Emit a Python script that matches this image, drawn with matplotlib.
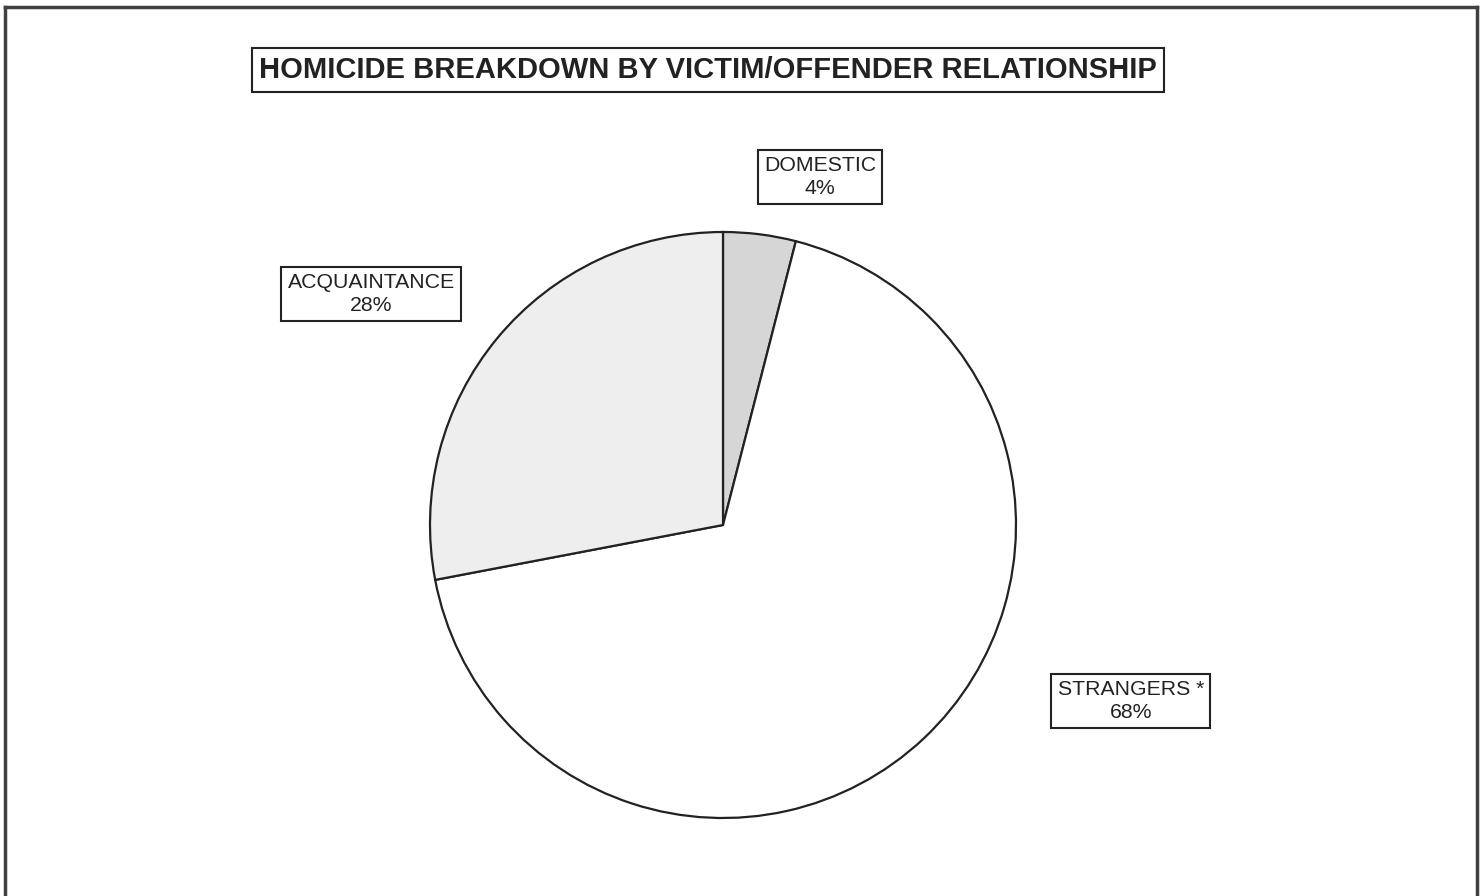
import matplotlib
matplotlib.use("Agg")
import matplotlib.pyplot as plt
from matplotlib.lines import Line2D

plt.rcParams['font.family'] = ['Liberation Sans', 'DejaVu Sans']

TITLE = "HOMICIDE BREAKDOWN BY VICTIM/OFFENDER RELATIONSHIP"
categories = ["DOMESTIC", "STRANGERS *", "ACQUAINTANCE"]
shares = [4, 68, 28]
slice_colors = ["#d6d6d6", "#ffffff", "#eeeeee"]
# label box centres, in pie data units (radius = 1)
label_pos = [(0.331, 1.188), (1.392, -0.601), (-1.201, 0.788)]

W, H = 1482, 896
fig = plt.figure(figsize=(W / 100, H / 100), dpi=100)

# outer frame (no bottom edge visible in the scan)
frame_kw = dict(color="#404040", lw=2.5, transform=fig.transFigure)
fig.add_artist(Line2D([5 / W, 5 / W], [0, 1 - 7 / H], **frame_kw))
fig.add_artist(Line2D([5 / W, 1477 / W], [1 - 7 / H, 1 - 7 / H], **frame_kw))
fig.add_artist(Line2D([1477 / W, 1477 / W], [0, 1 - 7 / H], **frame_kw))

fig.text(708 / W, 1 - 70 / H, TITLE, ha="center", va="center", fontsize=21,
         fontweight="bold", color="#222222",
         bbox=dict(boxstyle="square,pad=0.26", fc="white", ec="#222222", lw=1.5))

# pie axes: centre (723, 525) px, radius 293 px
cx, cy, r = 723, 525, 293
ax = fig.add_axes([(cx - r) / W, 1 - (cy + r) / H, 2 * r / W, 2 * r / H])
ax.pie(shares, colors=slice_colors, startangle=90, counterclock=False, radius=1,
       wedgeprops=dict(edgecolor="#222222", linewidth=1.6))
ax.set_xlim(-1, 1)
ax.set_ylim(-1, 1)
ax.set_aspect("auto")
ax.axis("off")

for name, val, (x, y) in zip(categories, shares, label_pos):
    ax.text(x, y, f"{name}\n{val}%", ha="center", va="center", fontsize=15.3,
            color="#222222", linespacing=1.25, clip_on=False,
            bbox=dict(boxstyle="square,pad=0.3", fc="white", ec="#222222", lw=1.5))

fig.savefig("out.png", dpi=100)
